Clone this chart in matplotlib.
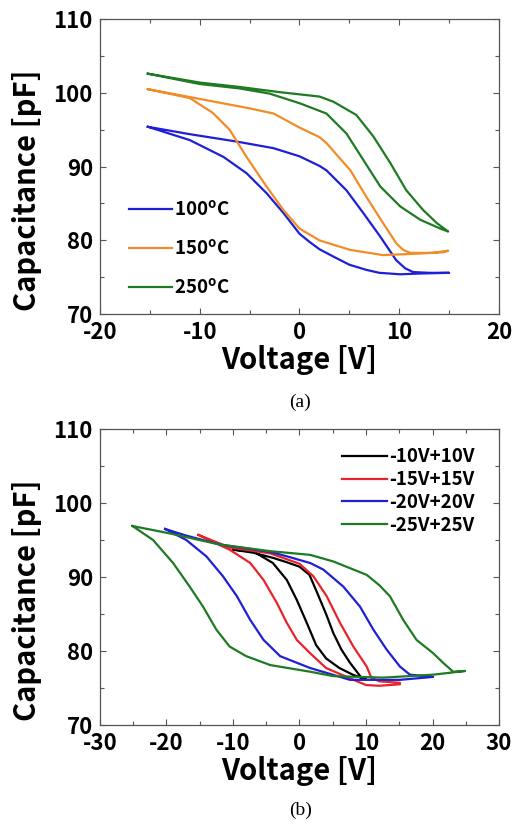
"""
    C-V hysteresis curves: (a) annealing temperature, (b) sweep range.
"""
import matplotlib
matplotlib.use("Agg")
import matplotlib.pyplot as plt
from matplotlib.ticker import MultipleLocator

# (a) loops at different temperatures: forward branch then backward branch
v_100_fwd = [-15.2, -11, -6.3, -2.6, 0, 2, 2.7, 4.7, 6.4, 8.1, 9.7, 10.6, 11.4, 13, 15]
c_100_fwd = [95.4, 94.4, 93.4, 92.5, 91.4, 90.1, 89.5, 86.8, 83.7, 80.5, 77.3, 76.2, 75.7, 75.6, 75.6]
v_100_bwd = [15, 12, 10.1, 8, 6.7, 5, 3.4, 2, 1, 0, -1.6, -3.3, -5.3, -7.6, -11, -15.2]
c_100_bwd = [75.6, 75.5, 75.4, 75.6, 76.0, 76.7, 77.8, 78.8, 79.8, 80.9, 83.7, 86.4, 89.1, 91.3, 93.6, 95.4]

v_150_fwd = [-15.2, -9.3, -5, -2.6, 0, 2, 2.7, 5.1, 6.7, 8.4, 9.7, 10.4, 11.1, 13.4, 14.9]
c_150_fwd = [100.5, 99.0, 97.9, 97.2, 95.3, 94.0, 93.2, 89.5, 85.9, 82.3, 79.6, 78.7, 78.3, 78.3, 78.6]
v_150_bwd = [14.5, 11.8, 8.4, 5.1, 2, 0, -1.6, -3.3, -5.3, -7, -8.7, -11, -15.2]
c_150_bwd = [78.4, 78.2, 78.0, 78.7, 80.0, 81.6, 84.1, 87.3, 91.3, 95.0, 97.3, 99.3, 100.5]

v_250_fwd = [-15.2, -10, -6, -2, 0, 2, 3.4, 5.7, 7.4, 9.1, 10.7, 12.4, 13.8, 14.8]
c_250_fwd = [102.6, 101.4, 100.8, 100.1, 99.8, 99.5, 98.8, 97.0, 94.1, 90.5, 86.8, 84.1, 82.3, 81.3]
v_250_bwd = [14.9, 14.1, 12.1, 10.1, 8.1, 6.4, 4.7, 2.7, 0, -3, -6, -10, -15.2]
c_250_bwd = [81.2, 81.6, 82.8, 84.6, 87.3, 90.9, 94.5, 97.2, 98.6, 99.9, 100.6, 101.2, 102.6]

temp_labels = ["100$^{\\mathrm{o}}$C", "150$^{\\mathrm{o}}$C", "250$^{\\mathrm{o}}$C"]

# (b) loops for different sweep ranges
v_10_fwd = [-10, -7, -4, -1.9, 0, 1.5, 2.6, 4, 5.1, 6.3, 7.6, 9.3, 10]
c_10_fwd = [93.7, 93.3, 92.6, 92.0, 91.4, 90.3, 88.0, 85.0, 82.4, 80.2, 78.4, 76.4, 76.2]
v_10_bwd = [10, 9.5, 8, 6, 4, 2.5, 1.1, -0.4, -1.9, -4, -7, -10]
c_10_bwd = [76.2, 76.3, 76.8, 77.7, 79.0, 80.8, 83.8, 86.9, 89.6, 91.9, 93.5, 93.7]

v_15_fwd = [-15.2, -10.5, -4.4, 0, 2.1, 4.1, 6.1, 8.1, 10.1, 10.8, 12, 15.1]
c_15_fwd = [95.7, 94.0, 93.2, 91.8, 90.1, 87.4, 83.8, 80.6, 77.9, 76.4, 75.9, 75.7]
v_15_bwd = [15.1, 12, 10, 7.6, 4, 1.6, -0.4, -1.9, -3.4, -5.4, -7.4, -10.5, -15.2]
c_15_bwd = [75.5, 75.3, 75.4, 76.3, 77.7, 79.7, 81.5, 83.8, 86.5, 89.6, 91.9, 93.7, 95.7]

v_20_fwd = [-20.2, -17, -12, -4.4, -1.9, 1.6, 3.6, 6.6, 9.1, 11.1, 13.1, 15.1, 16.6, 20.1]
c_20_fwd = [96.5, 95.6, 94.4, 93.4, 92.8, 91.9, 91.0, 88.7, 86.0, 82.9, 80.2, 77.9, 76.8, 76.5]
v_20_bwd = [20.1, 15.1, 7.6, 1.6, -2.9, -5.4, -7.4, -9.4, -11.5, -14, -17, -20.2]
c_20_bwd = [76.5, 76.1, 76.1, 77.7, 79.3, 81.5, 84.2, 87.4, 90.1, 92.8, 95.0, 96.5]

v_25_fwd = [-25.1, -19.5, -12, -4.4, 1.6, 5.1, 10.1, 12, 13.6, 15.6, 17.6, 20.1, 21.6, 23.1, 24.9]
c_25_fwd = [96.9, 95.9, 94.4, 93.5, 93.0, 92.1, 90.3, 88.9, 87.4, 84.2, 81.5, 79.7, 78.4, 77.2, 77.3]
v_25_bwd = [24.9, 20.1, 12.6, 5.1, 1.6, -4.4, -8, -10.5, -12.5, -14.5, -16.5, -19, -22, -25.1]
c_25_bwd = [77.3, 76.8, 76.4, 76.6, 77.2, 78.1, 79.3, 80.6, 82.9, 86.0, 88.7, 91.9, 95.0, 96.9]

range_labels = ["-10V+10V", "-15V+15V", "-20V+20V", "-25V+25V"]

plt.rcParams.update({
    "font.family": ["Noto Sans CJK KR", "DejaVu Sans"],
    "font.weight": "bold",
    "axes.unicode_minus": False,
    "mathtext.fontset": "custom",
    "mathtext.rm": "Noto Sans CJK KR:bold",
    "mathtext.it": "Noto Sans CJK KR:bold",
})

SPINE = "#555555"


def style_axes(ax, xlim, xmajor):
    ax.set_xlim(*xlim)
    ax.set_ylim(70, 110)
    ax.xaxis.set_major_locator(MultipleLocator(xmajor))
    ax.xaxis.set_minor_locator(MultipleLocator(xmajor / 2))
    ax.yaxis.set_major_locator(MultipleLocator(10))
    ax.yaxis.set_minor_locator(MultipleLocator(5))
    ax.tick_params(which="both", direction="in", top=True, right=True,
                   color=SPINE, width=0.8)
    ax.tick_params(which="major", length=4, labelsize=16)
    ax.tick_params(which="minor", length=3)
    ax.tick_params(axis="x", pad=5)
    ax.tick_params(axis="y", pad=5)
    for sp in ax.spines.values():
        sp.set_color(SPINE)
        sp.set_linewidth(0.9)
    ax.set_xlabel("Voltage [V]", fontsize=21, fontweight="bold", labelpad=1)
    # the label sits a bit below the axes centre in the original
    ax.set_ylabel("Capacitance [pF]", fontsize=21, fontweight="bold",
                  labelpad=8, y=0.42)


fig = plt.figure(figsize=(5.15, 8.31), dpi=100)

# (a)
ax1 = fig.add_axes([0.194, 0.622, 0.775, 0.355])
temp_colors = ["#1f1fd6", "#f28c28", "#1e7b22"]
temp_loops = [
    (v_100_fwd + v_100_bwd, c_100_fwd + c_100_bwd),
    (v_150_fwd + v_150_bwd, c_150_fwd + c_150_bwd),
    (v_250_fwd + v_250_bwd, c_250_fwd + c_250_bwd),
]
for (v, c), col, lab in zip(temp_loops, temp_colors, temp_labels):
    ax1.plot(v, c, color=col, lw=1.6, label=lab, solid_joinstyle="round")
style_axes(ax1, (-20, 20), 10)
ax1.legend(loc="lower left", bbox_to_anchor=(0.03, 0.0), frameon=False,
           fontsize=13.5, handlelength=2.3, handletextpad=0.1, labelspacing=1.0)
fig.text(0.583, 0.516, "(a)", ha="center", va="center",
         family="Liberation Serif", fontweight="normal", fontsize=14)

# (b)
ax2 = fig.add_axes([0.194, 0.1276, 0.775, 0.356])
range_colors = ["#000000", "#e8232a", "#1f1fd6", "#1e7b22"]
range_loops = [
    (v_10_fwd + v_10_bwd, c_10_fwd + c_10_bwd),
    (v_15_fwd + v_15_bwd, c_15_fwd + c_15_bwd),
    (v_20_fwd + v_20_bwd, c_20_fwd + c_20_bwd),
    (v_25_fwd + v_25_bwd, c_25_fwd + c_25_bwd),
]
for (v, c), col, lab in zip(range_loops, range_colors, range_labels):
    ax2.plot(v, c, color=col, lw=1.6, label=lab, solid_joinstyle="round")
style_axes(ax2, (-30, 30), 10)
ax2.legend(loc="upper right", bbox_to_anchor=(0.98, 0.995), frameon=False,
           fontsize=13.5, handlelength=2.4, handletextpad=0.1, labelspacing=0.2)
fig.text(0.583, 0.025, "(b)", ha="center", va="center",
         family="Liberation Serif", fontweight="normal", fontsize=14)

fig.savefig("out.png", dpi=100)
